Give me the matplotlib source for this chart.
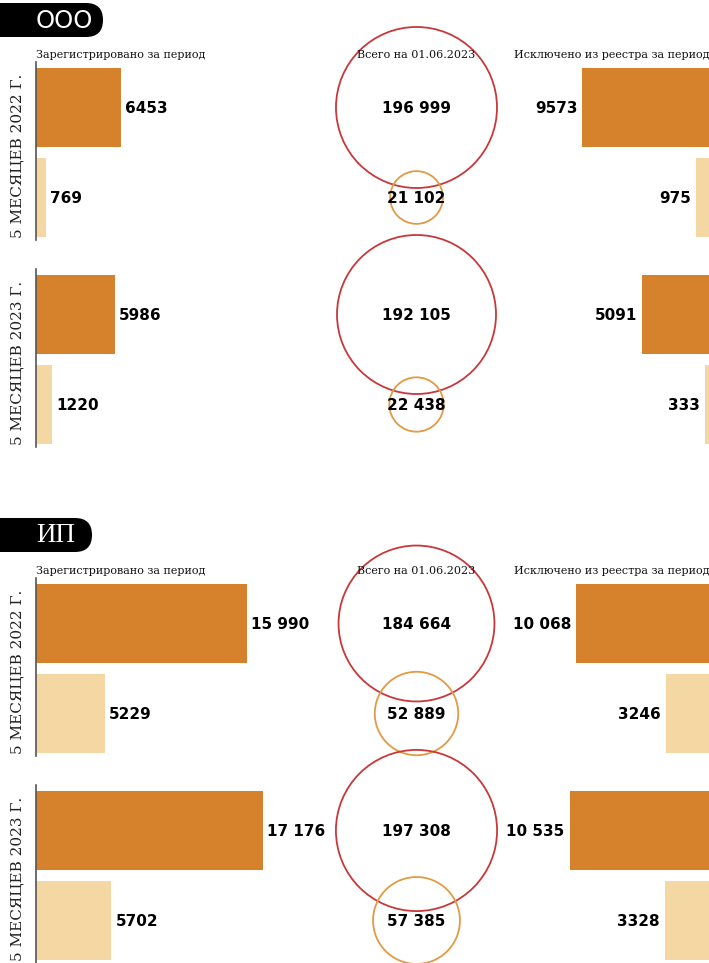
import matplotlib
matplotlib.use("Agg")
import numpy as np
import matplotlib.pyplot as plt
from matplotlib.patches import Circle, FancyBboxPatch

# data
sections = ["ООО", "ИП"]
periods = ["5 МЕСЯЦЕВ 2022 Г.", "5 МЕСЯЦЕВ 2023 Г."]
header_left = "Зарегистрировано за период"
header_mid = "Всего на 01.06.2023"
header_right = "Исключено из реестра за период"

registered = {
    "ООО": [[6453, 769], [5986, 1220]],
    "ИП": [[15990, 5229], [17176, 5702]],
}
total = {
    "ООО": [[196999, 21102], [192105, 22438]],
    "ИП": [[184664, 52889], [197308, 57385]],
}
excluded = {
    "ООО": [[9573, 975], [5091, 333]],
    "ИП": [[10068, 3246], [10535, 3328]],
}

# layout (pixels)
W, H = 709, 963
BAR_LEFT = 36
PX_PER_UNIT = 0.01322
CIRCLE_K = 0.1814
CIRCLE_X = 416.5
BAR_H = 79
ROW_GAP = 90
section_tab_y = {"ООО": 3, "ИП": 518}
group_tops = {"ООО": [68, 275], "ИП": [584, 791]}
tab_right = {"ООО": 103, "ИП": 92}
tab_font = {"ООО": (["DejaVu Sans"], 17.5), "ИП": (["Liberation Serif"], 19.5)}

DARK = "#d6812b"
LIGHT = "#f5d7a4"
RED = "#c8383a"
ORANGE = "#e29a45"

SERIF = ["DejaVu Serif"]
SANS = ["DejaVu Sans"]


def fmt(value):
    if value >= 10000:
        return f"{value:,}".replace(",", " ")
    return str(value)


fig = plt.figure(figsize=(W / 100, H / 100), dpi=100)
ax = fig.add_axes([0, 0, 1, 1])
ax.set_xlim(0, W)
ax.set_ylim(H, 0)
ax.axis("off")

for section in sections:
    ty = section_tab_y[section]
    tab = FancyBboxPatch((-40, ty), 40 + tab_right[section], 34,
                         boxstyle="round,pad=0,rounding_size=17",
                         facecolor="black", edgecolor="none")
    ax.add_patch(tab)
    family, size = tab_font[section]
    ax.text(36, ty + 18, section, color="white", fontsize=size,
            family=family, ha="left", va="center")

    head_y = group_tops[section][0] - 13
    ax.text(BAR_LEFT, head_y, header_left, family=SERIF, fontsize=8,
            ha="left", va="center", color="#111111")
    ax.text(CIRCLE_X, head_y, header_mid, family=SERIF, fontsize=8,
            ha="center", va="center", color="#111111")
    ax.text(W, head_y, header_right, family=SERIF, fontsize=8,
            ha="right", va="center", color="#111111")

    for gi, top in enumerate(group_tops[section]):
        ys = np.array([top + BAR_H / 2, top + ROW_GAP + BAR_H / 2])
        colors = [DARK, LIGHT]
        ring_colors = [RED, ORANGE]

        ax.plot([35.5, 35.5], [top - 6, top + 172], color="#555555", lw=1.2)
        ax.text(18, top + 88, periods[gi], family=SERIF, fontsize=11,
                rotation=90, ha="center", va="center", color="#222222")

        reg = np.array(registered[section][gi])
        ax.barh(ys, reg * PX_PER_UNIT, left=BAR_LEFT, height=BAR_H, color=colors)
        for y, v in zip(ys, reg):
            ax.text(BAR_LEFT + v * PX_PER_UNIT + 4, y + 1, fmt(v), family=SANS,
                    fontsize=11, fontweight="bold", ha="left", va="center")

        exc = np.array(excluded[section][gi])
        ax.barh(ys, exc * PX_PER_UNIT, left=W - exc * PX_PER_UNIT, height=BAR_H,
                color=colors)
        for y, v in zip(ys, exc):
            ax.text(W - v * PX_PER_UNIT - 5, y + 1, fmt(v), family=SANS,
                    fontsize=11, fontweight="bold", ha="right", va="center")

        tot = total[section][gi]
        for y, v, rc in zip(ys, tot, ring_colors):
            ax.add_patch(Circle((CIRCLE_X, y), CIRCLE_K * np.sqrt(v),
                                facecolor="none", edgecolor=rc, lw=1.3))
            ax.text(CIRCLE_X, y + 1, fmt(v), family=SANS, fontsize=11,
                    fontweight="bold", ha="center", va="center", zorder=5)

fig.savefig("out.png", dpi=100, facecolor="white")
